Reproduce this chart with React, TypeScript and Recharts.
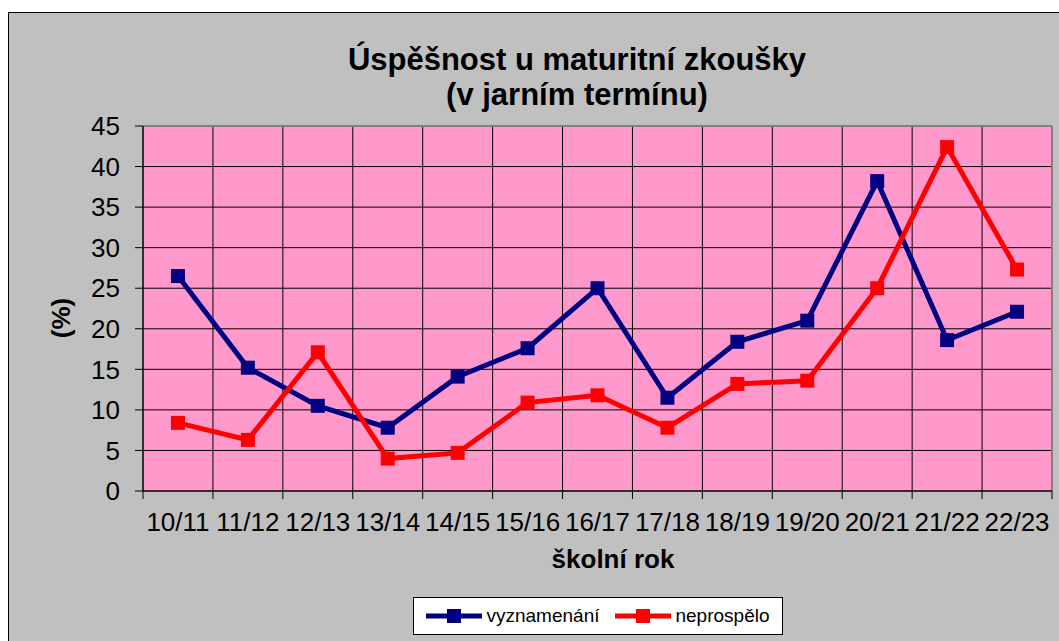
import { LineChart, Line, XAxis, YAxis, CartesianGrid, Legend } from 'recharts'

const years = ['10/11', '11/12', '12/13', '13/14', '14/15', '15/16', '16/17', '17/18', '18/19', '19/20', '20/21', '21/22', '22/23']
const vyznamenani = [26.5, 15.2, 10.5, 7.8, 14.1, 17.6, 25.0, 11.5, 18.4, 21.0, 38.2, 18.6, 22.1]
const neprospelo = [8.4, 6.3, 17.1, 4.0, 4.7, 10.9, 11.8, 7.8, 13.2, 13.6, 25.0, 42.4, 27.3]
const yTicks = [0, 5, 10, 15, 20, 25, 30, 35, 40, 45]
const seriesOrder = ['vyznamenání', 'neprospělo']

const data = years.map((year, i) => ({ year, vyznamenani: vyznamenani[i], neprospelo: neprospelo[i] }))

const FONT = '"Liberation Sans", Arial, sans-serif'
const TICK_GAP = 22

const squareDot = (color: string) => (props: any) => {
  const { cx, cy, index } = props
  if (cx == null || cy == null) return <g key={index} />
  return <rect key={index} x={cx - 7} y={cy - 7} width={14} height={14} fill={color} />
}

// category label centred in its band, tick marks on the band edges (Excel style)
function YearTick(props: any) {
  const { x, y, payload, index, width, visibleTicksCount } = props
  const half = payload && payload.offset ? payload.offset : width / visibleTicksCount / 2
  const top = y - TICK_GAP
  return (
    <g>
      <line x1={x - half} y1={top} x2={x - half} y2={top + 8} stroke="#000" />
      {index === visibleTicksCount - 1 && <line x1={x + half} y1={top} x2={x + half} y2={top + 8} stroke="#000" />}
      <text x={x} y={y} dy="0.71em" textAnchor="middle" fontFamily={FONT} fontSize={26} fill="#000">
        {payload.value}
      </text>
    </g>
  )
}

function LegendBox({ payload }: any) {
  const items = [...(payload || [])].sort((a: any, b: any) => seriesOrder.indexOf(a.value) - seriesOrder.indexOf(b.value))
  return (
    <div
      style={{
        width: 368,
        height: 36,
        background: '#fff',
        border: '1px solid #000',
        display: 'flex',
        alignItems: 'center',
        justifyContent: 'center',
        gap: 16,
        fontFamily: FONT,
        fontSize: 19,
        color: '#000',
      }}
    >
      {items.map((p: any) => (
        <div key={p.value} style={{ display: 'flex', alignItems: 'center' }}>
          <svg width={56} height={16} style={{ marginRight: 4 }}>
            <line x1={0} y1={8} x2={56} y2={8} stroke={p.color} strokeWidth={5} />
            <rect x={21} y={1} width={14} height={14} fill={p.color} />
          </svg>
          <span>{p.value}</span>
        </div>
      ))}
    </div>
  )
}

export default function App() {
  return (
    <div
      style={{
        position: 'fixed',
        left: 8,
        top: 12,
        width: 1050,
        height: 628,
        background: '#C0C0C0',
        borderLeft: '1px solid #000',
        borderTop: '1px solid #000',
      }}
    >
      <LineChart width={1050} height={628} data={data} margin={{ top: 113, right: 7, left: 0, bottom: 0 }}>
        <CartesianGrid
          stroke="#000"
          strokeWidth={1}
          fill="#FF99CC"
          fillOpacity={1}
          verticalCoordinatesGenerator={({ offset }: any) =>
            years.map((_, i) => offset.left + (i * offset.width) / years.length)
          }
        />
        <CartesianGrid
          stroke="#808080"
          strokeWidth={2}
          horizontalCoordinatesGenerator={({ offset }: any) => [offset.top]}
          verticalCoordinatesGenerator={({ offset }: any) => [offset.left + offset.width]}
        />
        <XAxis
          dataKey="year"
          scale="band"
          height={150}
          axisLine={{ stroke: '#000' }}
          tickLine={false}
          tickSize={0}
          tickMargin={TICK_GAP}
          interval={0}
          tick={<YearTick />}
        />
        <YAxis
          domain={[0, 45]}
          ticks={yTicks}
          width={134}
          tickSize={8}
          tickMargin={15}
          axisLine={{ stroke: '#000' }}
          tickLine={{ stroke: '#000' }}
          tick={{ fontSize: 26, fill: '#000', fontFamily: FONT }}
        />
        <Line
          dataKey="vyznamenani"
          name="vyznamenání"
          stroke="#000080"
          strokeWidth={5}
          dot={squareDot('#000080')}
          activeDot={false}
          isAnimationActive={false}
        />
        <Line
          dataKey="neprospelo"
          name="neprospělo"
          stroke="#FF0000"
          strokeWidth={5}
          dot={squareDot('#FF0000')}
          activeDot={false}
          isAnimationActive={false}
        />
        <Legend
          layout="horizontal"
          verticalAlign="middle"
          align="center"
          content={<LegendBox />}
          wrapperStyle={{ position: 'absolute', left: 404, top: 584, width: 370, height: 38 }}
        />
        <text x={568} y={57} textAnchor="middle" fontFamily={FONT} fontSize={31} fontWeight="bold" fill="#000">
          Úspěšnost u maturitní zkoušky
        </text>
        <text x={568} y={92} textAnchor="middle" fontFamily={FONT} fontSize={31} fontWeight="bold" fill="#000">
          (v jarním termínu)
        </text>
        <text
          x={52}
          y={305}
          transform="rotate(-90 52 305)"
          textAnchor="middle"
          dominantBaseline="central"
          fontFamily={FONT}
          fontSize={26}
          fontWeight="bold"
          fill="#000"
        >
          (%)
        </text>
        <text x={604} y={555} textAnchor="middle" fontFamily={FONT} fontSize={26} fontWeight="bold" fill="#000">
          školní rok
        </text>
      </LineChart>
    </div>
  )
}
